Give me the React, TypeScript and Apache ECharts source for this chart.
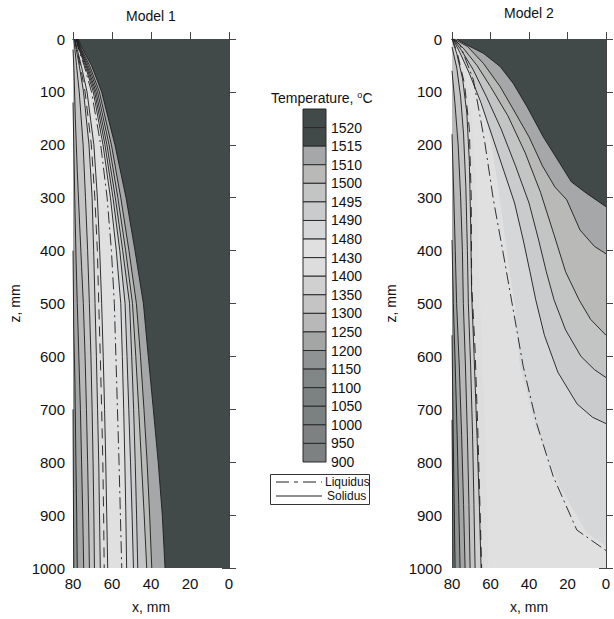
import React, { useEffect, useRef } from 'react';
import * as echarts from 'echarts';

const FONT = '"Liberation Sans", Arial, sans-serif';

// ---------- legend ----------
const legendLabels = ['1520', '1515', '1510', '1500', '1495', '1490', '1480', '1430', '1400', '1350', '1300', '1250', '1200', '1150', '1100', '1050', '1000', '950', '900'];
const legendColors = ['#414a49', '#414a49', '#a5a7a8', '#b9b9b7', '#c3c4c4', '#c9cbcd', '#d5d7d9', '#e1e0e1', '#dddddd', '#d0d0d0', '#c4c4c4', '#b8b8b8', '#a4a6a6', '#8f9393', '#818686', '#7c8282', '#7b8080', '#7d8181', '#7d8181'];

// fill colour of the band just above each isotherm
const levelFill: Record<number, string> = {
  1100: '#818686', 1150: '#8f9393', 1200: '#a4a6a6', 1250: '#b8b8b8', 1300: '#c4c4c4',
  1350: '#d0d0d0', 1400: '#dddddd', 1430: '#e1e0e1', 1480: '#d5d7d9', 1490: '#c9cbcd',
  1495: '#c3c4c4', 1500: '#b9b9b7', 1510: '#a5a7a8', 1515: '#414a49',
};
const coldest = '#7c8282';

// ---------- Model 1 (x in mm at depths z1) ----------
const z1 = [0, 20, 50, 100, 200, 300, 400, 500, 600, 700, 800, 900, 1000];
const m1x1515 = [77.3, 75, 70.5, 65.3, 58.5, 52.8, 48.2, 43.9, 41.4, 38.8, 36.3, 34.2, 32.8];
const m1x1510 = [77.6, 75.6, 71.5, 66.5, 60.3, 55.5, 51.3, 47.5, 45.4, 43.6, 42, 40.7, 39.6];
const m1x1500 = [77.8, 76, 72.2, 67.4, 61.5, 57, 53, 49.5, 47.8, 46.3, 44.9, 43.5, 42.2];
const m1x1495 = [78, 76.3, 72.8, 68.2, 62.6, 58.3, 54.5, 51, 49.9, 48.9, 48.1, 47.4, 46.8];
const m1x1490 = [78.2, 76.6, 73.3, 68.9, 63.6, 59.5, 56, 53.3, 52.3, 51.4, 50.5, 49.7, 49];
const m1x1480 = [78.4, 76.9, 73.8, 69.6, 64.6, 60.8, 57.8, 55.5, 54.7, 54, 53.4, 52.9, 52.5];
const m1xLiquidus = [78.5, 77.1, 74.3, 70.5, 65.8, 62.5, 60.3, 58.8, 58, 57.2, 56.4, 55.7, 55];
const m1x1430 = [79, 77.8, 75.8, 72.8, 69.3, 67.5, 66.3, 65.3, 64.5, 63.8, 63.2, 62.7, 62.2];
const m1xSolidus = [79.1, 78, 76.3, 73.8, 70.6, 68.8, 67.5, 66.8, 66, 65.3, 64.7, 64.3, 64];
const m1x1400 = [79.3, 78.3, 76.8, 74.6, 71.8, 70.2, 69.4, 68.7, 68, 67.4, 66.8, 66.4, 66];
const m1x1350 = [79.6, 79, 78.2, 76.8, 74.8, 73.6, 72.5, 71.6, 70.8, 70.2, 69.7, 69.3, 69];
const m1p1300: number[][] = [[80, 20], [79.5, 60], [78.8, 150], [77.8, 250], [76.6, 350], [75.6, 430], [74.7, 500], [73.8, 600], [73.1, 700], [72.5, 800], [72, 900], [71.6, 1000]];
const m1p1250: number[][] = [[80, 120], [79.5, 220], [79, 320], [78.4, 420], [77.8, 500], [77, 600], [76.2, 700], [75.6, 800], [75, 900], [74.5, 1000]];
const m1p1200: number[][] = [[80, 400], [79.6, 550], [79, 650], [78.5, 800], [78.1, 900], [77.8, 1000]];
const m1p1150: number[][] = [[80, 700], [79.8, 850], [79.6, 1000]];

// ---------- Model 2 ([x, z] points) ----------
const m2p1515: number[][] = [[77.6, 0], [72.4, 11], [63.7, 27], [55, 52], [48.2, 84], [41, 128], [32.6, 185], [24, 235], [18, 270], [10, 292], [0, 317]];
const m2p1510: number[][] = [[79, 0], [72, 14], [63.7, 46], [55, 90], [48, 134], [40, 185], [33, 240], [26.5, 280], [20.4, 304], [13.5, 361], [6, 392], [0, 406]];
const m2p1500: number[][] = [[79.2, 0], [74, 18], [67, 50], [60, 90], [51, 145], [42, 215], [34, 290], [27, 370], [21, 440], [14, 493], [8, 530], [0, 560]];
const m2p1495: number[][] = [[79.4, 0], [75, 22], [69, 58], [62, 110], [54.5, 170], [47, 240], [40, 310], [35, 380], [31, 440], [27, 493], [21, 550], [13, 600], [6, 625], [0, 640]];
const m2p1490: number[][] = [[79.5, 0], [76, 25], [71, 65], [65, 120], [59, 185], [53, 250], [47.5, 310], [43, 380], [39.5, 440], [36.5, 493], [32, 560], [25, 630], [15, 690], [7, 715], [0, 727]];
const m2p1480: number[][] = [[79.6, 0], [75, 18], [69.5, 60], [64, 120], [59.5, 200], [56, 280], [53, 360], [50, 440], [47.5, 500], [44.7, 619], [36.5, 733], [24, 846], [10, 934], [0, 959]];
const m2pLiquidus: number[][] = [[79.5, 0], [75.8, 11], [68.9, 77], [62.9, 197], [58.5, 304], [53.4, 405], [48.2, 512], [43, 619], [36, 727], [27.4, 827], [15.2, 928], [0, 967]];
const m2p1430: number[][] = [[79.8, 0], [76.5, 25], [72.5, 80], [69.5, 160], [67.5, 260], [66.3, 380], [65.3, 500], [64, 620], [62.8, 750], [61.8, 880], [61, 1000]];
const m2p1400: number[][] = [[80, 0], [77.5, 28], [74.5, 75], [72.3, 140], [71, 230], [70.3, 350], [69.8, 480], [68.5, 600], [67, 750], [65.8, 880], [64.9, 1000]];
const m2pSolidus: number[][] = [[79.7, 0], [77, 30], [73.5, 85], [71, 170], [70, 300], [69.8, 462], [68, 588], [66.5, 750], [65.5, 880], [64.6, 1000]];
const m2p1350: number[][] = [[80, 15], [77.5, 55], [75.5, 110], [74, 180], [72.8, 280], [72, 400], [71.5, 500], [70.3, 620], [69.3, 750], [68.6, 880], [68, 1000]];
const m2p1300: number[][] = [[80, 60], [78.5, 120], [76.8, 200], [75.5, 300], [74.6, 400], [74.1, 500], [73, 620], [72, 750], [71.2, 880], [70.6, 1000]];
const m2p1250: number[][] = [[80, 180], [79.2, 280], [78.3, 400], [77.6, 500], [76.2, 620], [75, 750], [74, 880], [73.2, 1000]];
const m2p1200: number[][] = [[80, 380], [79.3, 500], [78.3, 620], [77.3, 750], [76.5, 880], [75.8, 1000]];
const m2p1150: number[][] = [[80, 560], [79.6, 680], [79.1, 820], [78.4, 1000]];
const m2p1100: number[][] = [[80, 720], [79.7, 850], [79.5, 1000]];

const xTicks = { min: 0, max: 80, interval: 20 };
const zTicks = { min: 0, max: 1000, interval: 100 };

type Iso = { t: number; pts: number[][]; stroke: boolean };
const withZ = (xs: number[]) => xs.map((x, i) => [x, z1[i]]);

const model1: Iso[] = [
  { t: 1150, pts: m1p1150, stroke: true },
  { t: 1200, pts: m1p1200, stroke: true },
  { t: 1250, pts: m1p1250, stroke: true },
  { t: 1300, pts: m1p1300, stroke: true },
  { t: 1350, pts: withZ(m1x1350), stroke: true },
  { t: 1400, pts: withZ(m1x1400), stroke: true },
  { t: 1430, pts: withZ(m1x1430), stroke: true },
  { t: 1480, pts: withZ(m1x1480), stroke: true },
  { t: 1490, pts: withZ(m1x1490), stroke: true },
  { t: 1495, pts: withZ(m1x1495), stroke: true },
  { t: 1500, pts: withZ(m1x1500), stroke: true },
  { t: 1510, pts: withZ(m1x1510), stroke: true },
  { t: 1515, pts: withZ(m1x1515), stroke: true },
];
const model2: Iso[] = [
  { t: 1100, pts: m2p1100, stroke: true },
  { t: 1150, pts: m2p1150, stroke: true },
  { t: 1200, pts: m2p1200, stroke: true },
  { t: 1250, pts: m2p1250, stroke: true },
  { t: 1300, pts: m2p1300, stroke: true },
  { t: 1350, pts: m2p1350, stroke: true },
  { t: 1400, pts: m2p1400, stroke: true },
  { t: 1430, pts: m2p1430, stroke: false },
  { t: 1480, pts: m2p1480, stroke: false },
  { t: 1490, pts: m2p1490, stroke: true },
  { t: 1495, pts: m2p1495, stroke: true },
  { t: 1500, pts: m2p1500, stroke: true },
  { t: 1510, pts: m2p1510, stroke: true },
  { t: 1515, pts: m2p1515, stroke: true },
];

const LIQ_DASH = [12, 4, 2, 4];
const SOL_DASH = [10, 7];
const LINE_C = '#1c1c1c';
const AXIS_C = '#444';
const TXT_C = '#111';

function fillSeries(isos: Iso[], ai: number) {
  return {
    type: 'custom',
    xAxisIndex: ai,
    yAxisIndex: ai,
    clip: true,
    silent: true,
    z: 2,
    data: isos.map((iso) => iso.pts[0]),
    renderItem: (params: any, api: any) => {
      const iso = isos[params.dataIndex];
      const last = iso.pts[iso.pts.length - 1];
      const pts = iso.pts.concat([[0, last[1]], [0, 0], [80, 0]]).map((p) => api.coord(p));
      return { type: 'polygon', shape: { points: pts }, style: { fill: levelFill[iso.t], stroke: null } };
    },
  };
}

function lineSeries(pts: number[][], ai: number, dash: any, width = 0.9) {
  return {
    type: 'line',
    xAxisIndex: ai,
    yAxisIndex: ai,
    data: pts,
    symbol: 'none',
    showSymbol: false,
    silent: true,
    z: 3,
    clip: true,
    lineStyle: { color: LINE_C, width, type: dash },
  };
}

const plain = (v: number) => String(v);

function axesFor(gi: number, gap: number) {
  const label = { fontSize: 15, color: TXT_C, fontFamily: FONT, formatter: plain };
  const line = { show: true, lineStyle: { color: AXIS_C, width: 1 } };
  const tick = { show: true, inside: false, length: 7, lineStyle: { color: AXIS_C, width: 1 } };
  return {
    x: [
      {
        type: 'value', gridIndex: gi, position: 'bottom', inverse: true, ...xTicks,
        axisLine: line, axisTick: tick, splitLine: { show: false },
        axisLabel: { ...label, margin: 8, showMinLabel: true, showMaxLabel: true },
        name: 'x, mm', nameLocation: 'middle', nameGap: 32,
        nameTextStyle: { fontSize: 14, color: TXT_C, fontFamily: FONT },
      },
      {
        type: 'value', gridIndex: gi, position: 'top', inverse: true, ...xTicks,
        axisLine: line, axisTick: tick, splitLine: { show: false }, axisLabel: { show: false },
      },
    ],
    y: [
      {
        type: 'value', gridIndex: gi, position: 'left', inverse: true, ...zTicks,
        axisLine: line, axisTick: tick, splitLine: { show: false },
        axisLabel: { ...label, margin: gi === 0 ? 8 : 10, showMinLabel: true, showMaxLabel: true },
        name: 'z, mm', nameLocation: 'middle', nameGap: gap, nameRotate: 90,
        nameTextStyle: { fontSize: 14, color: TXT_C, fontFamily: FONT },
      },
      {
        type: 'value', gridIndex: gi, position: 'right', inverse: true, ...zTicks,
        axisLine: line, axisTick: tick, splitLine: { show: false }, axisLabel: { show: false },
      },
    ],
  };
}

function buildOption() {
  const a1 = axesFor(0, 51);
  const a2 = axesFor(1, 54);
  const series: any[] = [];
  series.push(fillSeries(model1, 0));
  model1.filter((i) => i.stroke).forEach((i) => series.push(lineSeries(i.pts, 0, 'solid')));
  series.push(lineSeries(withZ(m1xLiquidus), 0, LIQ_DASH));
  series.push(lineSeries(withZ(m1xSolidus), 0, SOL_DASH));
  series.push(fillSeries(model2, 2));
  model2.filter((i) => i.stroke).forEach((i) => series.push(lineSeries(i.pts, 2, 'solid')));
  series.push(lineSeries(m2pLiquidus, 2, LIQ_DASH));
  series.push(lineSeries(m2pSolidus, 2, SOL_DASH));

  const boxTop = 109;
  const boxH = (462 - 109) / legendLabels.length;
  const graphics: any[] = [
    { type: 'text', x: 151, y: 16, style: { text: 'Model 1', fontSize: 14, fill: TXT_C, fontFamily: FONT, align: 'center', verticalAlign: 'middle' } },
    { type: 'text', x: 529, y: 13, style: { text: 'Model 2', fontSize: 14, fill: TXT_C, fontFamily: FONT, align: 'center', verticalAlign: 'middle' } },
    {
      type: 'text', x: 271, y: 98,
      style: {
        text: 'Temperature, {s|o}C', fontSize: 14, fill: TXT_C, fontFamily: FONT, verticalAlign: 'middle',
        rich: { s: { fontSize: 9, fill: TXT_C, fontFamily: FONT, verticalAlign: 'top', padding: [0, 0, 7, 0] } },
      },
    },
  ];
  legendColors.forEach((c, i) => {
    graphics.push({ type: 'rect', shape: { x: 303, y: boxTop + i * boxH, width: 23, height: boxH }, style: { fill: c, stroke: '#2a2a2a', lineWidth: 1 } });
  });
  legendLabels.forEach((l, i) => {
    graphics.push({ type: 'text', x: 331, y: boxTop + (i + 1) * boxH, style: { text: l, fontSize: 14, fill: TXT_C, fontFamily: FONT, verticalAlign: 'middle' } });
  });
  graphics.push(
    { type: 'rect', shape: { x: 270.5, y: 474.5, width: 99, height: 30 }, style: { fill: '#fff', stroke: '#333', lineWidth: 1 } },
    { type: 'line', shape: { x1: 276, y1: 482, x2: 322, y2: 482 }, style: { stroke: '#222', lineWidth: 1, lineDash: [13, 5, 4, 5] } },
    { type: 'line', shape: { x1: 276, y1: 496, x2: 322, y2: 496 }, style: { stroke: '#222', lineWidth: 1 } },
    { type: 'text', x: 325, y: 482, style: { text: 'Liquidus', fontSize: 12, fill: TXT_C, fontFamily: FONT, verticalAlign: 'middle' } },
    { type: 'text', x: 327, y: 496, style: { text: 'Solidus', fontSize: 12, fill: TXT_C, fontFamily: FONT, verticalAlign: 'middle' } },
  );

  return {
    animation: false,
    backgroundColor: '#fff',
    grid: [
      { left: 73, top: 39, width: 156, height: 529, show: true, backgroundColor: coldest, borderWidth: 0 },
      { left: 452, top: 39, width: 154, height: 529, show: true, backgroundColor: coldest, borderWidth: 0 },
    ],
    xAxis: [...a1.x, ...a2.x],
    yAxis: [...a1.y, ...a2.y],
    series,
    graphic: graphics,
  };
}

export default function App() {
  const ref = useRef<HTMLDivElement>(null);
  useEffect(() => {
    if (!ref.current) return;
    const chart = echarts.init(ref.current, null, { renderer: 'svg' });
    chart.setOption(buildOption() as any);
    return () => chart.dispose();
  }, []);
  return <div ref={ref} style={{ position: 'fixed', left: 0, top: 0, width: 614, height: 619, background: '#fff' }} />;
}
